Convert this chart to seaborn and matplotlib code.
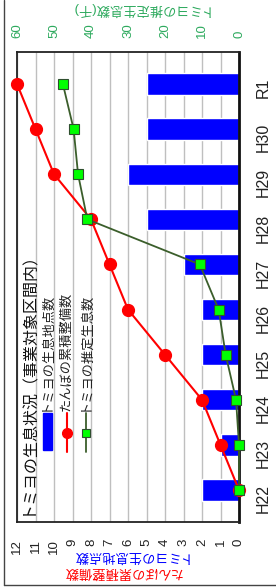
import numpy as np
import pandas as pd
import matplotlib
matplotlib.use('Agg')
import matplotlib.pyplot as plt
import seaborn as sns
from matplotlib.lines import Line2D
from matplotlib.patches import Rectangle

# ---- data ----
years = ['H22', 'H23', 'H24', 'H25', 'H26', 'H27', 'H28', 'H29', 'H30', 'R1']
sites = [2, 1, 2, 2, 2, 3, 5, 6, 5, 5]                      # トミヨの生息地点数
paddies = [0, 1, 2, 4, 6, 7, 8, 10, 11, 12]                 # たんぼの累積整備数
fish = [0, 0, 0.8, 3.6, 5.5, 10.6, 41, 43.5, 44.7, 47.6]    # トミヨの推定生息数(千)
left_ticks = list(range(0, 13))
right_ticks = [0, 10, 20, 30, 40, 50, 60]

title = 'トミヨの生息状況（事業対象区間内）'
lab_sites = 'トミヨの生息地点数'
lab_paddy = 'たんぼの累積整備数'
lab_fish = 'トミヨの推定生息数'
lab_right = 'トミヨの推定生息数(千)'

BLUE = '#0000FF'
RED = '#FF0000'
GREEN_TXT = '#2EAA5E'
GREEN_LINE = '#3B5E2B'
GREEN_FACE = '#00FF00'

sns.set_theme(style='white')
plt.rcParams['font.family'] = ['Liberation Sans', 'Noto Sans CJK JP', 'DejaVu Sans']

W, H = 276, 588
fig = plt.figure(figsize=(W / 100, H / 100), dpi=100)
fig.patch.set_facecolor('white')


def fx(px):
    return px / W


def fy(py):
    return 1 - py / H


ax = fig.add_axes([fx(17), fy(522), fx(239) - fx(17), fy(52) - fy(522)])
order = years[::-1]
df = pd.DataFrame({'year': years, 'sites': sites})
sns.barplot(data=df, x='sites', y='year', order=order, orient='h',
            color=BLUE, width=0.47, saturation=1, ax=ax, zorder=2)

ax.set_xlim(12, 0)
ax.set_xticks(left_ticks)
ax.set_xticklabels([str(t) for t in left_ticks])
ax.grid(axis='x', color='#BFBFBF', lw=1)
ax.grid(axis='y', visible=False)
ax.set_axisbelow(True)
ax.set_xlabel('')
ax.set_ylabel('')
ax.tick_params(axis='x', labelrotation=90, length=0, pad=12, labelsize=9.5, colors='#222222')
ax.yaxis.tick_right()
ax.tick_params(axis='y', labelrotation=90, length=0, pad=12, labelsize=11.5, colors='#222222')
for s in ['left', 'top', 'bottom']:
    ax.spines[s].set_color('#222222')
    ax.spines[s].set_linewidth(1.3)
ax.spines['right'].set_color('#111111')
ax.spines['right'].set_linewidth(2)

ypos = [order.index(y) for y in years]
ax.plot(paddies, ypos, color=RED, lw=1.5, marker='o', ms=8.5, mec=RED, mfc=RED,
        zorder=4, clip_on=False)

ax2 = ax.twiny()
ax2.set_xlim(60, 0)
ax2.set_xticks(right_ticks)
ax2.set_xticklabels([str(t) for t in right_ticks])
ax2.tick_params(axis='x', labelrotation=90, length=0, pad=10, labelsize=9.5, labelcolor=GREEN_TXT)
for s in ax2.spines.values():
    s.set_visible(False)
ax2.grid(False)
ax2.plot(fish, ypos, color=GREEN_LINE, lw=1.3, marker='s', ms=7, mfc=GREEN_FACE,
         mec='#2F4F2F', mew=0.8, zorder=5, clip_on=False)

# axis titles (rotated chart)
fig.text(fx(126), fy(555), lab_sites, rotation=180, color=BLUE, fontsize=9.5,
         ha='center', va='center')
fig.text(fx(122), fy(571), lab_paddy, rotation=180, color=RED, fontsize=9.5,
         ha='center', va='center')
fig.text(fx(136), fy(9), lab_right, rotation=180, color=GREEN_TXT, fontsize=9.5,
         ha='center', va='center')

# legend block
fig.text(fx(28), fy(379), title, rotation=90, fontsize=11.5, ha='center', va='center',
         color='#111111')
for tx, txt in [(46, lab_sites), (66, lab_paddy), (85, lab_fish)]:
    fig.text(fx(tx), fy(411), txt, rotation=90, rotation_mode='anchor', ha='left',
             va='center', fontsize=9.5, color='#222222')
fig.add_artist(Rectangle((fx(43), fy(450)), fx(52) - fx(43), fy(413) - fy(450),
                         transform=fig.transFigure, color=BLUE))
fig.add_artist(Line2D([fx(67), fx(67)], [fy(413), fy(452)], transform=fig.transFigure,
                      color=RED, lw=1.5))
fig.add_artist(Line2D([fx(67)], [fy(433)], transform=fig.transFigure, marker='o',
                      ms=7, color=RED))
fig.add_artist(Line2D([fx(86), fx(86)], [fy(413), fy(452)], transform=fig.transFigure,
                      color=GREEN_LINE, lw=1.3))
fig.add_artist(Line2D([fx(86)], [fy(433)], transform=fig.transFigure, marker='s',
                      ms=6, mfc=GREEN_FACE, mec='#2F4F2F', mew=0.8, color=GREEN_LINE))

# outer frame
fig.add_artist(Line2D([fx(3.5), fx(3.5)], [fy(585), 1.0], transform=fig.transFigure,
                      color='#444444', lw=1))
fig.add_artist(Line2D([fx(3.5), 1.0], [fy(585), fy(585)], transform=fig.transFigure,
                      color='#444444', lw=1))

fig.savefig('out.png', dpi=100)
